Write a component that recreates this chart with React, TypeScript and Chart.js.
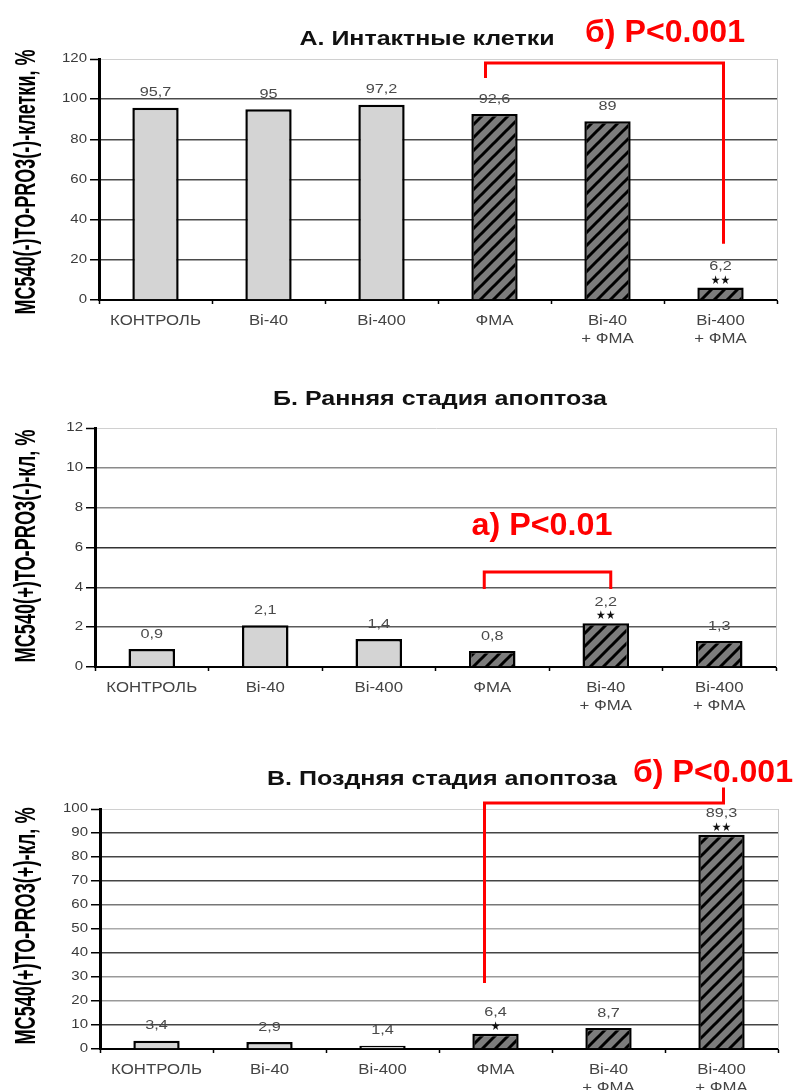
import React, { useEffect, useRef } from "react";
import { Chart, registerables } from "chart.js";

Chart.register(...registerables);

// ---- data ----
const categories: (string | string[])[] = [
  "КОНТРОЛЬ",
  "Bi-40",
  "Bi-400",
  "ФМА",
  ["Bi-40", "+ ФМА"],
  ["Bi-400", "+ ФМА"],
];
const hatchedGroups = [false, false, false, true, true, true];

const intactValues = [95.7, 95, 97.2, 92.6, 89, 6.2];
const intactStars = ["", "", "", "", "", "★★"];

const earlyValues = [0.9, 2.1, 1.4, 0.8, 2.2, 1.3];
const earlyStars = ["", "", "", "", "★★", ""];

const lateValues = [3.4, 2.9, 1.4, 6.4, 8.7, 89.3];
const lateStars = ["", "", "", "★", "", "★★"];

const W = 797;
const FONT = "'Liberation Sans', Arial, sans-serif";
const NARROW = "'Liberation Sans Narrow', 'Liberation Sans', Arial, sans-serif";

type Panel = {
  key: string;
  top: number;
  height: number;
  plot: { left: number; top: number; right: number; bottom: number };
  max: number;
  step: number;
  values: number[];
  stars: string[];
  title: string;
  titleX: number;
  titleBase: number;
  titleWidth: number;
  yTitle: string;
  yTitleY: number;
  yTitleLen: number;
  note: string;
  noteX: number;
  noteBase: number;
  noteWidth: number;
  bracket: { from: number; fromDx: number; to: number; toDx: number; topVal: number; leftVal: number; rightVal: number };
  gridShades: string[];
};

const panels: Panel[] = [
  {
    key: "a",
    top: 0,
    height: 360,
    plot: { left: 99, top: 59, right: 777, bottom: 300 },
    max: 120,
    step: 20,
    values: intactValues,
    stars: intactStars,
    title: "А. Интактные клетки",
    titleX: 427,
    titleBase: 45,
    titleWidth: 255,
    yTitle: "МС540(-)ТО-PRO3(-)-клетки, %",
    yTitleY: 182,
    yTitleLen: 265,
    note: "б) P<0.001",
    noteX: 665,
    noteBase: 42,
    noteWidth: 160,
    bracket: { from: 3, fromDx: -9, to: 5, toDx: 3, topVal: 118, leftVal: 110.5, rightVal: 28 },
    gridShades: ["#000", "#4a4a4a", "#4a4a4a", "#4a4a4a", "#4a4a4a", "#4a4a4a", "#d0d0d0"],
  },
  {
    key: "b",
    top: 360,
    height: 365,
    plot: { left: 95, top: 68, right: 776, bottom: 307 },
    max: 12,
    step: 2,
    values: earlyValues,
    stars: earlyStars,
    title: "Б. Ранняя стадия апоптоза",
    titleX: 440,
    titleBase: 45,
    titleWidth: 334,
    yTitle: "МС540(+)ТО-PRO3(-)-кл, %",
    yTitleY: 186,
    yTitleLen: 233,
    note: "а) P<0.01",
    noteX: 542,
    noteBase: 175,
    noteWidth: 141,
    bracket: { from: 3, fromDx: -8, to: 4, toDx: 5, topVal: 4.77, leftVal: 3.92, rightVal: 3.92 },
    gridShades: ["#000", "#5a5a5a", "#5a5a5a", "#333", "#8a8a8a", "#8a8a8a", "#d0d0d0"],
  },
  {
    key: "c",
    top: 725,
    height: 365,
    plot: { left: 100, top: 84, right: 778, bottom: 324 },
    max: 100,
    step: 10,
    values: lateValues,
    stars: lateStars,
    title: "В. Поздняя стадия апоптоза",
    titleX: 442,
    titleBase: 60,
    titleWidth: 350,
    yTitle: "МС540(+)ТО-PRO3(+)-кл, %",
    yTitleY: 201,
    yTitleLen: 237,
    note: "б) P<0.001",
    noteX: 713,
    noteBase: 57,
    noteWidth: 160,
    bracket: { from: 3, fromDx: -11, to: 5, toDx: 2, topVal: 102.5, leftVal: 27.5, rightVal: 109 },
    gridShades: ["#000", "#444", "#999", "#999", "#444", "#aaa", "#777", "#444", "#444", "#444", "#d0d0d0"],
  },
];

function makeHatch(): CanvasPattern | string {
  const s = 13;
  const c = document.createElement("canvas");
  c.width = s;
  c.height = s;
  const g = c.getContext("2d");
  if (!g) return "#808080";
  g.fillStyle = "#7c7c7c";
  g.fillRect(0, 0, s, s);
  g.strokeStyle = "#000";
  g.lineWidth = 3;
  g.beginPath();
  for (const k of [-s, 0, s]) {
    g.moveTo(k - 2, s + 2);
    g.lineTo(k + s + 2, -2);
  }
  g.stroke();
  return g.createPattern(c, "repeat") || "#808080";
}

type TextOpts = {
  align?: CanvasTextAlign;
  baseline?: CanvasTextBaseline;
  sx?: number;
  fit?: number;
  rotate?: number;
};

function drawText(
  ctx: CanvasRenderingContext2D,
  text: string,
  x: number,
  y: number,
  font: string,
  color: string,
  o: TextOpts = {}
) {
  ctx.save();
  ctx.font = font;
  ctx.fillStyle = color;
  ctx.textAlign = o.align ?? "center";
  ctx.textBaseline = o.baseline ?? "middle";
  ctx.translate(x, y);
  if (o.rotate) ctx.rotate(o.rotate);
  let s = o.sx ?? 1;
  if (o.fit) s = o.fit / ctx.measureText(text).width;
  ctx.scale(s, 1);
  ctx.fillText(text, 0, 0);
  ctx.restore();
}

function overlay(p: Panel) {
  return {
    id: "overlay-" + p.key,
    afterDraw(chart: any) {
      const ctx: CanvasRenderingContext2D = chart.ctx;
      const area = chart.chartArea;
      const xs = chart.scales.x;
      const ys = chart.scales.y;

      // light frame on the right side of the plot
      ctx.save();
      ctx.strokeStyle = "#c8c8c8";
      ctx.lineWidth = 1;
      ctx.beginPath();
      ctx.moveTo(area.right + 0.5, area.top);
      ctx.lineTo(area.right + 0.5, area.bottom);
      ctx.stroke();
      ctx.restore();

      // y tick labels
      for (const t of ys.ticks) {
        const y = ys.getPixelForValue(t.value);
        drawText(ctx, String(t.value), area.left - 12, y, `12px ${FONT}`, "#3a3a3a", {
          align: "right",
          sx: 1.25,
        });
      }

      // category labels
      categories.forEach((c, i) => {
        const x = xs.getPixelForValue(i);
        const lines = Array.isArray(c) ? c : [c];
        lines.forEach((ln, j) => {
          drawText(ctx, ln, x, area.bottom + 21 + j * 18, `14px ${FONT}`, "#444", { sx: 1.2 });
        });
      });

      // value labels and significance stars
      const meta = chart.getDatasetMeta(0);
      p.values.forEach((v, i) => {
        const bar = meta.data[i];
        const x = bar.x;
        const top = ys.getPixelForValue(v);
        const hasStars = p.stars[i] !== "";
        drawText(ctx, String(v).replace(".", ","), x, top - (hasStars ? 21 : 15), `13px ${FONT}`, "#4a4a4a", {
          sx: 1.25,
        });
        if (hasStars) {
          drawText(ctx, p.stars[i], x, top - 7, `12px 'DejaVu Sans', sans-serif`, "#111", { sx: 0.9 });
        }
      });

      // panel title
      drawText(ctx, p.title, p.titleX, p.titleBase, `bold 20px ${FONT}`, "#111", {
        baseline: "alphabetic",
        fit: p.titleWidth,
      });

      // vertical axis title
      drawText(ctx, p.yTitle, 27, p.yTitleY, `bold 29px ${NARROW}`, "#000", {
        rotate: -Math.PI / 2,
        fit: p.yTitleLen,
      });

      // comparison bracket and p-value
      const b = p.bracket;
      const xl = xs.getPixelForValue(b.from) + b.fromDx;
      const xr = xs.getPixelForValue(b.to) + b.toDx;
      ctx.save();
      ctx.strokeStyle = "#ff0000";
      ctx.lineWidth = 3;
      ctx.lineJoin = "miter";
      ctx.beginPath();
      ctx.moveTo(xl, ys.getPixelForValue(b.leftVal));
      ctx.lineTo(xl, ys.getPixelForValue(b.topVal));
      ctx.lineTo(xr, ys.getPixelForValue(b.topVal));
      ctx.lineTo(xr, ys.getPixelForValue(b.rightVal));
      ctx.stroke();
      ctx.restore();

      drawText(ctx, p.note, p.noteX, p.noteBase, `bold 32px ${NARROW}`, "#ff0000", {
        baseline: "alphabetic",
        fit: p.noteWidth,
      });
    },
  };
}

function buildChart(canvas: HTMLCanvasElement, p: Panel, hatch: CanvasPattern | string) {
  const lastTick = Math.round(p.max / p.step);
  return new Chart(canvas, {
    type: "bar",
    data: {
      labels: categories as any,
      datasets: [
        {
          data: p.values,
          backgroundColor: hatchedGroups.map((h) => (h ? hatch : "#d4d4d4")) as any,
          borderColor: "#000",
          borderWidth: 2.5,
          barPercentage: 0.41,
          categoryPercentage: 1,
        },
      ],
    },
    options: {
      responsive: false,
      maintainAspectRatio: false,
      animation: false,
      devicePixelRatio: 1,
      layout: { padding: { top: p.plot.top, right: W - p.plot.right, left: 0, bottom: 0 } },
      plugins: {
        legend: { display: false },
        tooltip: { enabled: false },
        title: { display: false },
      },
      scales: {
        x: {
          grid: {
            display: true,
            drawOnChartArea: false,
            drawTicks: true,
            tickLength: 4,
            tickColor: "#000",
            tickWidth: 1.5,
            offset: true,
          },
          border: { display: true, color: "#000", width: 2 },
          ticks: { display: false },
          afterFit: (s: any) => {
            s.height = p.height - p.plot.bottom;
          },
        },
        y: {
          min: 0,
          max: p.max,
          ticks: { display: false, stepSize: p.step },
          grid: {
            color: (c: any) => p.gridShades[c.index] ?? "#888",
            lineWidth: (c: any) => (c.index === lastTick ? 1 : 1.5),
            drawTicks: true,
            tickLength: 9,
            tickColor: "#000",
            tickWidth: 1.5,
          },
          border: { display: true, color: "#000", width: 3 },
          afterFit: (s: any) => {
            s.width = p.plot.left;
          },
        },
      },
    } as any,
    plugins: [overlay(p)],
  });
}

export default function App() {
  const refA = useRef<HTMLCanvasElement>(null);
  const refB = useRef<HTMLCanvasElement>(null);
  const refC = useRef<HTMLCanvasElement>(null);
  const refs = [refA, refB, refC];

  useEffect(() => {
    const hatch = makeHatch();
    const charts = panels.map((p, i) => buildChart(refs[i].current as HTMLCanvasElement, p, hatch));
    return () => charts.forEach((c) => c.destroy());
  }, []);

  return (
    <div style={{ position: "absolute", left: 0, top: 0, width: W, height: 1090, background: "#fff" }}>
      {panels.map((p, i) => (
        <canvas
          key={p.key}
          ref={refs[i]}
          width={W}
          height={p.height}
          style={{ position: "absolute", left: 0, top: p.top, display: "block" }}
        />
      ))}
    </div>
  );
}
